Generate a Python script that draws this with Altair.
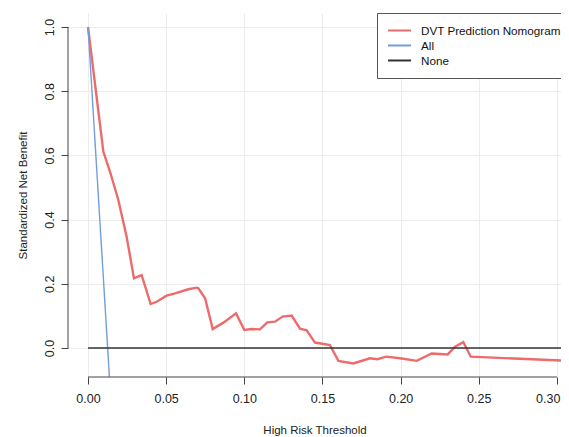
import altair as alt
import pandas as pd

# Red curve: DVT Prediction Nomogram (threshold, standardized net benefit)
nomo_x = [0.0, 0.0098, 0.0141, 0.0194, 0.0247, 0.0294, 0.0343, 0.0401, 0.0439,
          0.0503, 0.0557, 0.0642, 0.0695, 0.0706, 0.0749, 0.0798, 0.0866, 0.0947,
          0.1000, 0.1047, 0.1100, 0.1147, 0.1196, 0.1245, 0.1303, 0.1356, 0.1399,
          0.1452, 0.1548, 0.1602, 0.1697, 0.1804, 0.1851, 0.1907, 0.1996, 0.2103,
          0.2199, 0.2301, 0.2348, 0.2401, 0.2449, 0.3077]
nomo_y = [1.0, 0.612, 0.549, 0.461, 0.347, 0.217, 0.227, 0.137, 0.144,
          0.163, 0.170, 0.183, 0.188, 0.186, 0.155, 0.059, 0.079, 0.108,
          0.056, 0.059, 0.058, 0.080, 0.082, 0.098, 0.101, 0.060, 0.055,
          0.017, 0.009, -0.040, -0.048, -0.032, -0.035, -0.027, -0.032, -0.040,
          -0.017, -0.020, 0.004, 0.018, -0.027, -0.040]
all_x = [0.0, 0.0137]
all_y = [1.0, -0.09]
none_x = [0.0, 0.32]
none_y = [0.0, 0.0]

series = ["DVT Prediction Nomogram", "All", "None"]
colors = ["#EC6B6B", "#759DDC", "#333333"]

x_ticks = [0.0, 0.05, 0.10, 0.15, 0.20, 0.25, 0.30]
y_ticks = [0.0, 0.2, 0.4, 0.6, 0.8, 1.0]

rows = []
for name, xs, ys in zip(series, [nomo_x, all_x, none_x], [nomo_y, all_y, none_y]):
    for i, (a, b) in enumerate(zip(xs, ys)):
        rows.append({"series": name, "x": a, "y": b, "i": i})
df = pd.DataFrame(rows)

W, H = 493, 364
FONT = "Liberation Sans"
XTITLE = "High Risk Threshold"
YTITLE = "Standardized Net Benefit"

xscale = alt.Scale(domain=[-0.0128, 0.3026], nice=False, zero=False)
yscale = alt.Scale(domain=[-0.0903, 1.0436], nice=False, zero=False)

xaxis = alt.Axis(values=x_ticks, format=".2f", domain=False, tickSize=7,
                 tickColor="#444", labelPadding=8.5, titlePadding=19.5,
                 labelAlign={"condition": {"test": "datum.value >= 0.299", "value": "right"},
                             "value": "center"},
                 labelOffset={"condition": {"test": "datum.value >= 0.299", "value": 3},
                              "value": 0},
                 gridColor="#ececec", labelFontSize=12.5, titleFontSize=11.5,
                 labelColor="#222", titleColor="#222",
                 labelFont=FONT, titleFont=FONT, titleFontWeight="normal")
yaxis = alt.Axis(values=y_ticks, format=".1f", domain=False, tickSize=7,
                 tickColor="#444", labelAngle=270, labelPadding=5, titlePadding=15,
                 gridColor="#ececec", labelFontSize=12.5, titleFontSize=11.5,
                 labelColor="#222", titleColor="#222",
                 labelFont=FONT, titleFont=FONT, titleFontWeight="normal")

xenc = alt.X("x:Q", scale=xscale, title=XTITLE, axis=xaxis)
yenc = alt.Y("y:Q", scale=yscale, title=YTITLE, axis=yaxis)
cenc = alt.Color("series:N", scale=alt.Scale(domain=series, range=colors), title=None,
                 legend=alt.Legend(orient="none", legendX=309, legendY=0,
                                   symbolType="M-1,0H2.55", symbolSize=169,
                                   symbolStrokeWidth=2, labelFont=FONT,
                                   labelFontSize=11.7, labelColor="#111",
                                   strokeColor="#555", fillColor="white",
                                   padding=10, rowPadding=0, labelOffset=19,
                                   labelLimit=400))

base = alt.Chart(df)
red = base.transform_filter(alt.datum.series == series[0]).mark_line(
    clip=True, strokeWidth=2.4).encode(x=xenc, y=yenc, color=cenc, order="i:Q")
others = base.transform_filter(alt.datum.series != series[0]).mark_line(
    clip=True, strokeWidth=1.4).encode(x=xenc, y=yenc, color=cenc, order="i:Q")

xaxis_line = alt.Chart(pd.DataFrame({"a": [0.0], "b": [0.30]})).mark_rule(
    color="#444", strokeWidth=1).encode(
        x=alt.X("a:Q", scale=xscale, title=XTITLE, axis=xaxis), x2="b:Q", y=alt.value(H))
yaxis_line = alt.Chart(pd.DataFrame({"a": [0.0], "b": [1.0]})).mark_rule(
    color="#444", strokeWidth=1).encode(
        y=alt.Y("a:Q", scale=yscale, title=YTITLE, axis=yaxis), y2="b:Q", x=alt.value(0))

chart = alt.layer(red, others, xaxis_line, yaxis_line).properties(
    width=W, height=H,
    background="white",
    autosize=alt.AutoSizeParams(type="none"),
    padding={"left": 60, "top": 5, "right": 0, "bottom": 60},
).configure_view(stroke=None).configure_axis(domain=False)

chart.save("out.html", embed_options={"renderer": "svg", "actions": False})
